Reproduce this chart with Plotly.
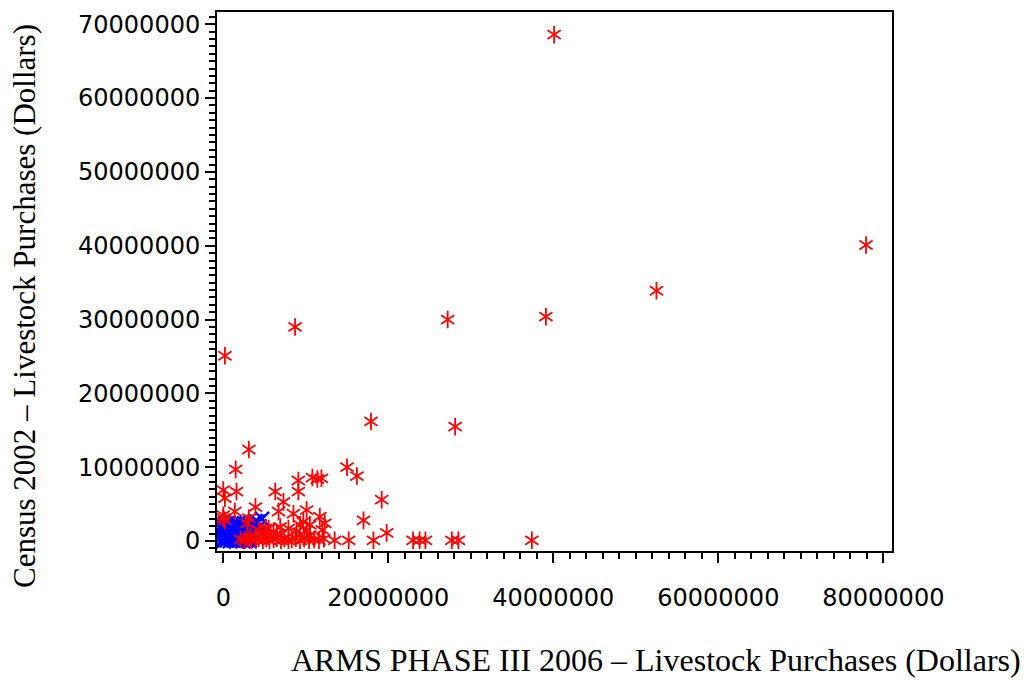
import plotly.graph_objects as go

# ---- Data (dollars) ----
red_x = [40.1e6, 77.9e6, 52.5e6, 39.1e6, 27.2e6, 8.7e6, 0.2e6, 17.9e6, 28.1e6, 3.1e6,
         1.5e6, 15.0e6, 16.2e6, 9.1e6, 10.8e6, 11.4e6, 11.9e6, 19.2e6, 17.0e6, 19.8e6,
         13.5e6, 15.2e6, 18.2e6, 23.0e6, 23.8e6, 24.5e6, 27.7e6, 28.5e6, 37.4e6,
         0.0e6, 1.6e6, 0.2e6, 6.3e6, 7.3e6, 9.1e6, 3.9e6, 1.4e6, 0.0e6, 0.0e6,
         0.2e6, 3.1e6, 2.9e6, 6.7e6, 8.5e6, 10.1e6, 9.7e6, 10.5e6, 11.7e6, 12.3e6,
         12.0e6, 10.1e6, 10.5e6, 7.9e6, 8.9e6, 6.5e6, 5.5e6, 6.1e6, 3.3e6, 4.5e6,
         5.3e6, 4.3e6, 5.1e6, 6.9e6, 9.3e6,
         2.1e6, 2.6e6, 3.0e6, 3.4e6, 3.9e6, 4.3e6, 4.8e6, 5.2e6, 5.6e6, 6.1e6,
         6.5e6, 7.0e6, 7.4e6, 7.9e6, 8.3e6, 8.8e6, 9.3e6, 9.8e6, 10.4e6, 11.0e6,
         11.6e6, 12.2e6]
red_y = [68.6e6, 40.1e6, 33.9e6, 30.4e6, 30.0e6, 29.0e6, 25.1e6, 16.2e6, 15.5e6, 12.4e6,
         9.7e6, 10.0e6, 8.8e6, 8.2e6, 8.6e6, 8.4e6, 8.5e6, 5.6e6, 2.8e6, 1.1e6,
         0.1e6, 0.1e6, 0.1e6, 0.1e6, 0.1e6, 0.1e6, 0.1e6, 0.1e6, 0.1e6,
         6.9e6, 6.7e6, 5.8e6, 6.7e6, 5.3e6, 6.7e6, 4.6e6, 4.0e6, 3.5e6, 3.1e6,
         2.8e6, 3.1e6, 2.4e6, 4.0e6, 3.7e6, 4.2e6, 2.6e6, 2.2e6, 3.3e6, 2.4e6,
         1.5e6, 1.5e6, 0.8e6, 1.7e6, 1.3e6, 1.0e6, 1.7e6, 1.3e6, 0.6e6, 1.0e6,
         0.8e6, 1.5e6, 1.7e6, 1.9e6, 2.2e6,
         0.2e6, 0.1e6, 0.3e6, 0.1e6, 0.2e6, 0.4e6, 0.1e6, 0.3e6, 0.1e6, 0.2e6,
         0.4e6, 0.1e6, 0.3e6, 0.1e6, 0.2e6, 0.4e6, 0.1e6, 0.3e6, 0.1e6, 0.2e6,
         0.1e6, 0.3e6]

blue_x = [0.0e6, 0.4e6, 0.8e6, 1.2e6, 1.6e6, 2.0e6, 2.4e6, 2.8e6, 3.2e6,
          0.1e6, 0.5e6, 0.9e6, 1.3e6, 1.7e6, 2.1e6, 2.5e6, 2.9e6, 3.3e6,
          0.0e6, 0.4e6, 0.8e6, 1.2e6, 1.6e6, 2.0e6, 2.4e6, 2.8e6, 3.2e6,
          0.1e6, 0.5e6, 0.9e6, 1.3e6, 1.7e6, 2.1e6, 2.5e6, 2.9e6, 3.3e6,
          0.0e6, 0.4e6, 0.8e6, 1.2e6, 1.6e6, 2.0e6, 2.4e6, 2.8e6, 3.2e6,
          0.1e6, 0.5e6, 0.9e6, 1.3e6, 1.7e6, 2.1e6, 2.5e6, 2.9e6,
          0.2e6, 0.6e6, 1.0e6, 1.4e6, 1.8e6, 2.2e6,
          4.7e6, 4.2e6, 3.8e6, 4.1e6, 3.6e6, 3.9e6, 4.4e6]
blue_y = [0.0e6, 0.1e6, 0.0e6, 0.1e6, 0.0e6, 0.1e6, 0.0e6, 0.1e6, 0.0e6,
          0.4e6, 0.5e6, 0.4e6, 0.5e6, 0.4e6, 0.5e6, 0.4e6, 0.5e6, 0.4e6,
          0.8e6, 0.9e6, 0.8e6, 0.9e6, 0.8e6, 0.9e6, 0.8e6, 0.9e6, 0.8e6,
          1.2e6, 1.3e6, 1.2e6, 1.3e6, 1.2e6, 1.3e6, 1.2e6, 1.3e6, 1.2e6,
          1.6e6, 1.7e6, 1.6e6, 1.7e6, 1.6e6, 1.7e6, 1.6e6, 1.7e6, 1.6e6,
          2.0e6, 2.1e6, 2.0e6, 2.1e6, 2.0e6, 2.1e6, 2.0e6, 2.1e6,
          2.4e6, 2.5e6, 2.4e6, 2.5e6, 2.4e6, 2.3e6,
          3.0e6, 2.6e6, 2.2e6, 1.6e6, 0.9e6, 2.7e6, 2.0e6]

x_title = "ARMS PHASE III 2006 \u2013 Livestock Purchases (Dollars)"
y_title = "Census 2002 \u2013 Livestock Purchases (Dollars)"

fig = go.Figure()
fig.add_trace(go.Scatter(x=blue_x, y=blue_y, mode="markers", showlegend=False,
                         marker=dict(symbol="x-thin-open", size=14, color="#0000FF",
                                     line=dict(width=2.5, color="#0000FF"))))
for sym in ["y-up-open", "y-down-open"]:
    fig.add_trace(go.Scatter(x=red_x, y=red_y, mode="markers", showlegend=False,
                             marker=dict(symbol=sym, size=11, color="#FF0000",
                                         line=dict(width=1.8, color="#FF0000"))))

tickfont = dict(family="DejaVu Sans", size=24, color="black")
axis_common = dict(showgrid=False, zeroline=False, showline=True, linecolor="black",
                   linewidth=2, mirror=True, ticks="outside", ticklen=10, tickwidth=2,
                   tickcolor="black", tickformat="d", tickfont=tickfont)

fig.update_xaxes(range=[-0.76e6, 81.05e6], dtick=20e6, tick0=0,
                 minor=dict(ticks="outside", ticklen=6, tickwidth=1.5, tickcolor="black",
                            dtick=2e6, tick0=0, showgrid=False),
                 ticklabelstandoff=14, **axis_common)
fig.update_yaxes(range=[-1.35e6, 71.66e6], dtick=10e6, tick0=0,
                 minor=dict(ticks="outside", ticklen=6, tickwidth=1.5, tickcolor="black",
                            dtick=1e6, tick0=0, showgrid=False),
                 **axis_common)

# page body adds an 8px margin; figure is sized/offset to compensate
fig.update_layout(
    width=1021, height=674,
    margin=dict(l=209, r=137, t=2, b=131),
    plot_bgcolor="white", paper_bgcolor="white",
    annotations=[
        dict(text=x_title, xref="paper", yref="paper", x=0.650, y=-0.2015,
             xanchor="center", yanchor="middle", showarrow=False,
             font=dict(family="Liberation Serif", size=32, color="black")),
        dict(text=y_title, xref="paper", yref="paper", x=-0.2844, y=0.4547,
             xanchor="center", yanchor="middle", showarrow=False, textangle=-90,
             font=dict(family="Liberation Serif", size=31, color="black")),
    ],
)

fig.write_html("out.html")
